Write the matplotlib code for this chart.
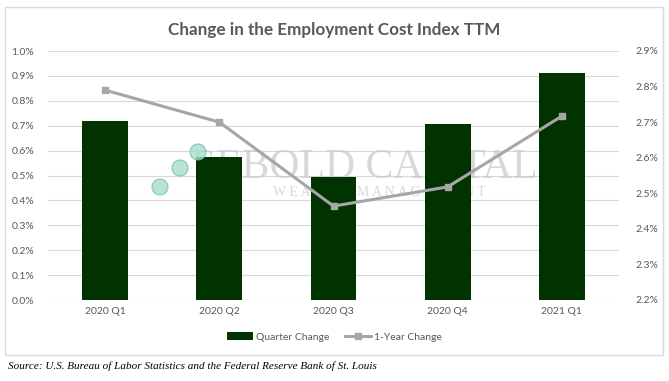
import matplotlib.pyplot as plt
from matplotlib.patches import Rectangle, Ellipse

# data
quarters = ["2020 Q1", "2020 Q2", "2020 Q3", "2020 Q4", "2021 Q1"]
quarter_change = [0.72, 0.574, 0.495, 0.707, 0.912]
year_change = [2.79, 2.70, 2.464, 2.518, 2.717]
left_ticks = [0.0, 0.1, 0.2, 0.3, 0.4, 0.5, 0.6, 0.7, 0.8, 0.9, 1.0]
right_ticks = [2.2, 2.3, 2.4, 2.5, 2.6, 2.7, 2.8, 2.9]

plt.rcParams['font.family'] = ['Lato', 'DejaVu Sans']
grey = "#595959"

fig = plt.figure(figsize=(6.69, 3.81), dpi=100)
ax = fig.add_axes([48/669, 1 - 300/381, 571/669, 249/381])

# outer chart frame
fig.patches.append(Rectangle((5/669, 1 - 355/381), 658/669, 348/381,
                             transform=fig.transFigure, fill=False,
                             edgecolor="#d9d9d9", linewidth=1))

x = range(len(quarters))
bars = ax.bar(x, quarter_change, width=0.4, color="#003300", zorder=3,
              label="Quarter Change")
ax.set_ylim(0, 1.0)
ax.set_yticks(left_ticks)
ax.set_yticklabels([f"{t:.1f}%" for t in left_ticks])
ax.set_xlim(-0.5, len(quarters) - 0.5)
ax.set_xticks(list(x))
ax.set_xticklabels(quarters)
for t in left_ticks:
    ax.axhline(t, color="#d9d9d9", linewidth=0.8, zorder=0)

ax2 = ax.twinx()
line, = ax2.plot(x, year_change, color="#a6a6a6", linewidth=2.2, marker="s",
                 markersize=4, zorder=3, label="1-Year Change")
ax2.set_ylim(2.2, 2.9)
ax2.set_yticks(right_ticks)
ax2.set_yticklabels([f"{t:.1f}%" for t in right_ticks])

for a in (ax, ax2):
    for s in a.spines.values():
        s.set_visible(False)
    a.tick_params(length=0, labelsize=7.5, colors=grey)
ax.tick_params(axis="y", pad=10)
ax2.tick_params(axis="y", pad=12)
ax.tick_params(axis="x", pad=5)

# faint watermark logo
for cx, cy in [(160, 187), (180, 168), (198, 152)]:
    fig.patches.append(Ellipse((cx/669, 1 - cy/381), 16/669, 16/381,
                               transform=fig.transFigure,
                               facecolor="#a8dccd", edgecolor="#6fbfa8",
                               alpha=0.8, linewidth=0.8, zorder=1))
ax.text(0.555, 0.53, "SEBOLD CAPITAL", transform=ax.transAxes, fontsize=30,
        color="#c8c8c8", alpha=0.7, ha="center", va="center",
        family="Liberation Serif", zorder=1)
ax.text(0.58, 0.43, "W E A L T H   M A N A G E M E N T", transform=ax.transAxes,
        fontsize=10, color="#c8c8c8", alpha=0.7, ha="center", va="center",
        family="Liberation Serif", zorder=1)

fig.text(0.5, 1 - 30/381, "Change in the Employment Cost Index TTM",
         ha="center", va="center", fontsize=12.3, fontweight="bold", color=grey)

fig.legend([bars, line], ["Quarter Change", "1-Year Change"], loc="center",
           bbox_to_anchor=(0.5, 1 - 337/381), ncol=2, frameon=False,
           fontsize=7.5, labelcolor=grey, handlelength=2.5, columnspacing=1.5,
           handletextpad=0.3)

fig.text(8/669, 1 - 366/381,
         "Source: U.S. Bureau of Labor Statistics and the Federal Reserve Bank of St. Louis",
         ha="left", va="center", fontsize=8, style="italic",
         family="Liberation Serif", color="black")

fig.savefig("out.png", dpi=100)
